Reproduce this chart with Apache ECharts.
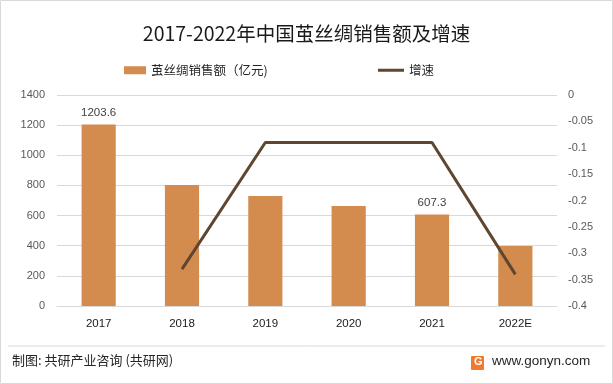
<!DOCTYPE html>
<html><head><meta charset="utf-8">
<script src="https://cdn.jsdelivr.net/npm/echarts@6/dist/echarts.min.js"></script>
<style>html,body{margin:0;padding:0;background:#fff}#c{width:613px;height:384px}</style>
</head><body><div id="c"></div>
<script>
const categories = ['2017','2018','2019','2020','2021','2022E'];
const salesValues = [1203.6, 803, 730, 664, 607.3, 398];
const growthValues = [null, -0.33, -0.09, -0.09, -0.09, -0.34];
const labeledBars = ['2017','2021'];
const leftTicks = [0,200,400,600,800,1000,1200,1400];
const rightTicks = [0,-0.05,-0.1,-0.15,-0.2,-0.25,-0.3,-0.35,-0.4];

const font = '"Microsoft YaHei","Noto Sans CJK SC",sans-serif';
const numFont = '"Liberation Sans",Arial,sans-serif';
const chart = echarts.init(document.getElementById('c'), null, {renderer:'canvas'});
chart.setOption({
  backgroundColor:'#fff',
  animation:false,
  title:{text:'2017-2022年中国茧丝绸销售额及增速', left:'center', top:19,
    textStyle:{fontSize:19.5, fontWeight:'normal', color:'#1a1a1a', fontFamily:font}},
  legend:[
    {data:[{name:'茧丝绸销售额（亿元)', icon:'rect'}], left:119, top:59, itemWidth:22, itemHeight:8, itemGap:4,
      textStyle:{fontSize:12.5,color:'#262626',fontFamily:font}},
    {data:[{name:'增速', icon:'rect'}], left:373, top:59, itemWidth:26, itemHeight:3,
      textStyle:{fontSize:12.5,color:'#262626',fontFamily:font}}
  ],
  grid:{left:57, right:56, top:95, bottom:78},
  xAxis:{type:'category', data:categories,
    axisLine:{lineStyle:{color:'#d9d9d9'}}, axisTick:{show:false},
    axisLabel:{color:'#1a1a1a', fontSize:11.5, margin:12, fontFamily:numFont}},
  yAxis:[
    {type:'value', min:0, max:1400, interval:200,
      axisLine:{show:false}, axisTick:{show:false},
      axisLabel:{color:'#595959', fontSize:11, margin:12, fontFamily:numFont, formatter:v=>String(v)},
      splitLine:{lineStyle:{color:'#d9d9d9'}}},
    {type:'value', min:-0.4, max:0, interval:0.05,
      axisLine:{show:false}, axisTick:{show:false},
      axisLabel:{color:'#595959', fontSize:11, margin:11, fontFamily:numFont,
        formatter:v=>String(Math.round(v*100)/100)},
      splitLine:{show:false}}
  ],
  series:[
    {name:'茧丝绸销售额（亿元)', type:'bar', barWidth:'41%', yAxisIndex:0,
      itemStyle:{color:'#D38B4E'},
      data:salesValues.map((v,i)=>({value:v, label:{show:labeledBars.includes(categories[i])}})),
      label:{position:'top', color:'#404040', fontSize:11.5, distance:6, fontFamily:numFont}},
    {name:'增速', type:'line', yAxisIndex:1, data:growthValues, symbol:'none',
      lineStyle:{color:'#5E4631', width:3}, itemStyle:{color:'#5E4631'}}
  ],
  graphic:[
    {type:'rect', shape:{x:0.5,y:0.5,width:612,height:383}, style:{fill:'none', stroke:'#d9d9d9', lineWidth:1}, silent:true},
    {type:'line', shape:{x1:8,y1:346,x2:605,y2:346}, style:{stroke:'#d9d9d9', lineWidth:1}},
    {type:'text', left:12, top:354, style:{text:'制图: 共研产业咨询 (共研网)', fontSize:13, fill:'#262626', fontFamily:font}},
    {type:'rect', shape:{x:471,y:356,width:13,height:14,r:1}, style:{fill:'#F07B2D'}},
    {type:'text', left:474, top:356, style:{text:'G', fontSize:11, fontWeight:'bold', fill:'#fff', fontFamily:'Arial'}},
    {type:'text', left:492, top:354, style:{text:'www.gonyn.com', fontSize:13.5, fill:'#262626', fontFamily:numFont}}
  ]
});
</script></body></html>
